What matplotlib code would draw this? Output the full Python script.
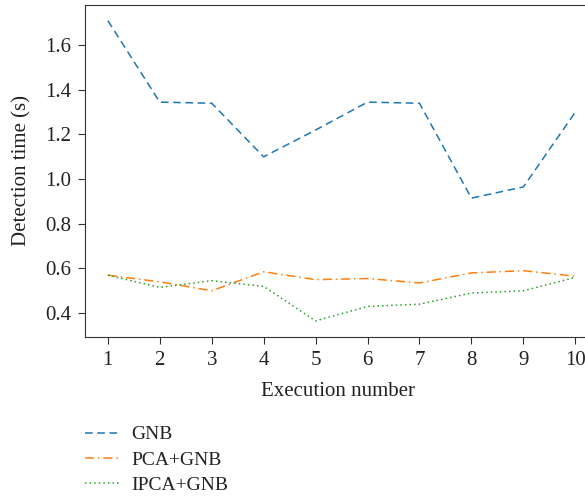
import matplotlib.pyplot as plt

# 数据
runs = [1, 2, 3, 4, 5, 6, 7, 8, 9, 10]
gnb = [1.71, 1.345, 1.34, 1.10, 1.22, 1.345, 1.34, 0.915, 0.965, 1.30]
pca_gnb = [0.57, 0.54, 0.50, 0.585, 0.55, 0.555, 0.535, 0.58, 0.59, 0.565]
ipca_gnb = [0.57, 0.515, 0.545, 0.52, 0.365, 0.43, 0.44, 0.49, 0.50, 0.56]

plt.rcParams['font.family'] = ['Liberation Serif', 'DejaVu Serif']

fig = plt.figure(figsize=(5.85, 4.96), dpi=100)
ax = fig.add_axes([85 / 585, 1 - 337 / 496, 1 - 85 / 585 + 0.01, 332 / 496])

ax.plot(runs, gnb, linestyle=(0, (5, 3)), color="#1f77b4", linewidth=1.1, label="GNB")
ax.plot(runs, pca_gnb, linestyle=(0, (6, 2.5, 1, 2.5)), color="#ff7f0e", linewidth=1.1, label="PCA+GNB")
ax.plot(runs, ipca_gnb, linestyle=(0, (1, 2)), color="#2ca02c", linewidth=1.1, label="IPCA+GNB")

ax.set_xlim(0.56, 10.3)
ax.set_ylim(0.293, 1.78)
ax.set_xticks(runs)
ax.set_yticks([0.4, 0.6, 0.8, 1.0, 1.2, 1.4, 1.6])
ax.set_yticklabels(["0.4", "0.6", "0.8", "1.0", "1.2", "1.4", "1.6"])
ax.tick_params(labelsize=15, length=5, pad=5, color="#333333", labelcolor="#222222")
ax.spines["right"].set_visible(False)
for s in ["left", "top", "bottom"]:
    ax.spines[s].set_color("#333333")

ax.set_xlabel("Execution number", fontsize=15, color="#222222", labelpad=9)
ax.set_ylabel("Detection time (s)", fontsize=15, color="#222222", labelpad=10)

ax.legend(loc="upper left", bbox_to_anchor=(-0.035, -0.215), frameon=False,
          fontsize=14, handlelength=1.8, handletextpad=0.6, labelspacing=0.4,
          labelcolor="#222222")

fig.savefig("out.png", dpi=100)
